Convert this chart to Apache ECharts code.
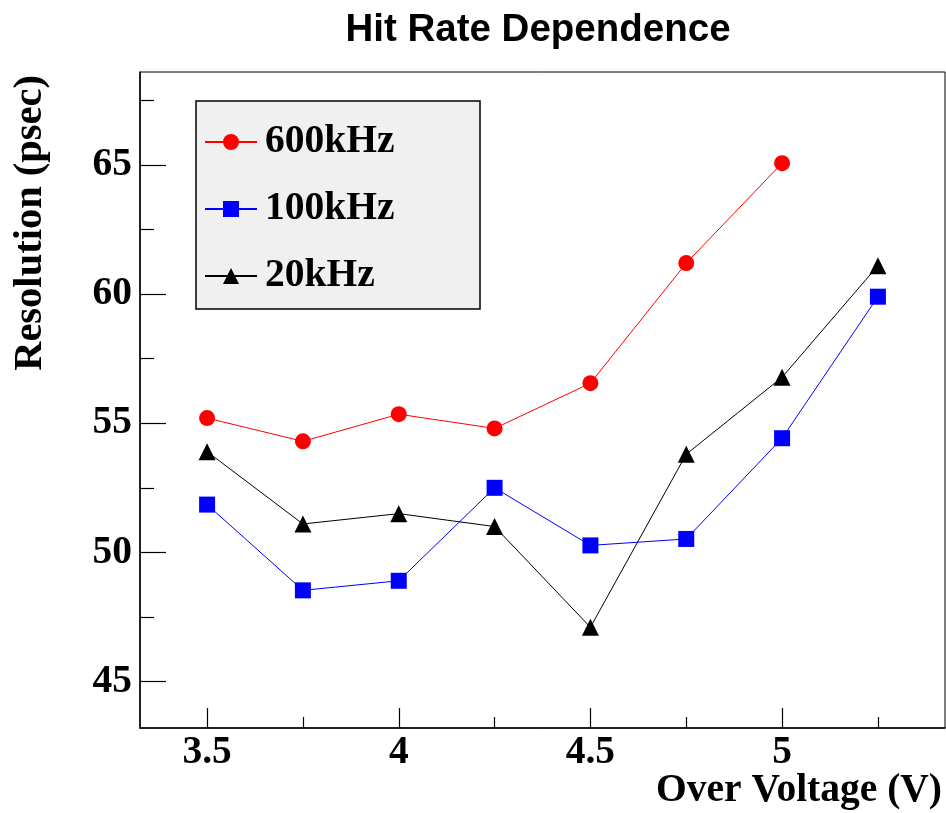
<!DOCTYPE html>
<html>
<head>
<meta charset="utf-8">
<script src="https://cdn.jsdelivr.net/npm/echarts@6/dist/echarts.min.js"></script>
<style>html,body{margin:0;padding:0;background:#fff;}#c{width:946px;height:813px;}</style>
</head>
<body>
<div id="c"></div>
<script>
const overVoltage = [3.5, 3.75, 4.0, 4.25, 4.5, 4.75, 5.0, 5.25];
const res600k = [55.2, 54.3, 55.35, 54.8, 56.55, 61.2, 65.07];
const res100k = [51.85, 48.53, 48.9, 52.5, 50.27, 50.52, 54.42, 59.9];
const res20k  = [53.9, 51.1, 51.5, 51.0, 47.1, 53.8, 56.78, 61.1];
const seriesNames = ['600kHz', '100kHz', '20kHz'];
const xMajorTicks = [3.5, 4, 4.5, 5];
const xMinorTicks = [3.75, 4.25, 4.75, 5.25];
const yMajorTicks = [45, 50, 55, 60, 65];
const yMinorTicks = [47.5, 52.5, 57.5, 62.5, 67.5];

const pairs = (ys) => ys.map((y, i) => [overVoltage[i], y]);
const serif = 'Liberation Serif';
const FS = 39.5;
const XMIN = 3.325, XMAX = 5.425, YMIN = 43.2, YMAX = 68.6;

const chart = echarts.init(document.getElementById('c'), null, {renderer: 'canvas'});
const baseX = {type: 'value', min: XMIN, max: XMAX, gridIndex: 0, position: 'bottom', splitLine: {show: false}};
const baseY = {type: 'value', min: YMIN, max: YMAX, gridIndex: 0, position: 'left', splitLine: {show: false}};
chart.setOption({
  animation: false,
  backgroundColor: '#fff',
  grid: {left: 140, right: 1, top: 72, bottom: 85, show: true, borderColor: '#000', borderWidth: 1, backgroundColor: 'transparent'},
  xAxis: [
    Object.assign({}, baseX, {
      axisLine: {show: true, onZero: false, lineStyle: {color: '#000', width: 1.5}},
      axisTick: {show: true, inside: true, length: 20, lineStyle: {color: '#000', width: 1.2}, customValues: xMajorTicks},
      axisLabel: {show: true, customValues: xMajorTicks, margin: 5, color: '#000', fontFamily: serif, fontWeight: 'bold', fontSize: FS, lineHeight: FS,
        formatter: v => String(v)}
    }),
    Object.assign({}, baseX, {
      axisLine: {show: false},
      axisTick: {show: true, inside: true, length: 11, lineStyle: {color: '#000', width: 1.2}, customValues: xMinorTicks},
      axisLabel: {show: false}
    })
  ],
  yAxis: [
    Object.assign({}, baseY, {
      axisLine: {show: true, onZero: false, lineStyle: {color: '#000', width: 1.5}},
      axisTick: {show: true, inside: true, length: 26, lineStyle: {color: '#000', width: 1.2}, customValues: yMajorTicks},
      axisLabel: {show: true, customValues: yMajorTicks, margin: 8, color: '#000', fontFamily: serif, fontWeight: 'bold', fontSize: FS, lineHeight: FS,
        formatter: v => String(v)}
    }),
    Object.assign({}, baseY, {
      axisLine: {show: false},
      axisTick: {show: true, inside: true, length: 14, lineStyle: {color: '#000', width: 1.2}, customValues: yMinorTicks},
      axisLabel: {show: false}
    })
  ],
  legend: {
    show: true, orient: 'vertical', left: 204, top: 122, padding: 0,
    itemWidth: 52, itemHeight: 20, itemGap: 27, z: 10,
    textStyle: {fontFamily: serif, fontWeight: 'bold', fontSize: FS, lineHeight: FS, color: '#000', padding: [0, 0, 0, 3]},
    data: seriesNames
  },
  graphic: [
    {type: 'rect', z: 5, shape: {x: 196, y: 101, width: 284, height: 208}, style: {fill: '#f0f0f0', stroke: '#000', lineWidth: 1.5}},
    {type: 'text', x: 538, y: 30, style: {text: 'Hit Rate Dependence', fill: '#000', font: 'bold 38.5px "Liberation Sans"', textAlign: 'center', textVerticalAlign: 'middle'}},
    {type: 'text', x: 942, y: 791, style: {text: 'Over Voltage (V)', fill: '#000', font: 'bold 39.5px "Liberation Serif"', textAlign: 'right', textVerticalAlign: 'middle'}},
    {type: 'text', x: 31, y: 75, rotation: Math.PI / 2, style: {text: 'Resolution (psec)', fill: '#000', font: 'bold 40.5px "Liberation Serif"', textAlign: 'right', textVerticalAlign: 'middle'}}
  ],
  series: [
    {name: seriesNames[0], type: 'line', data: pairs(res600k), symbol: 'circle', symbolSize: 16,
      itemStyle: {color: '#ff0000'}, lineStyle: {color: '#ff0000', width: 1}},
    {name: seriesNames[1], type: 'line', data: pairs(res100k), symbol: 'rect', symbolSize: 16,
      itemStyle: {color: '#0000ff'}, lineStyle: {color: '#0000ff', width: 1}},
    {name: seriesNames[2], type: 'line', data: pairs(res20k), symbol: 'triangle', symbolSize: 17,
      itemStyle: {color: '#000000'}, lineStyle: {color: '#000000', width: 1}}
  ]
});
</script>
</body>
</html>
